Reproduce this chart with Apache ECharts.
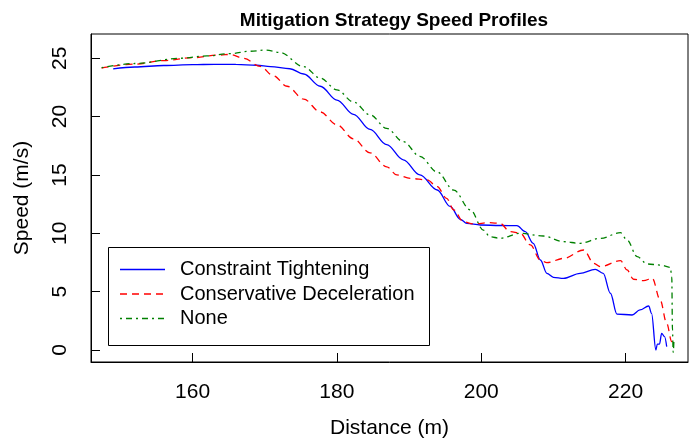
<!DOCTYPE html>
<html>
<head>
<meta charset="utf-8">
<script src="https://cdn.jsdelivr.net/npm/echarts@6/dist/echarts.min.js"></script>
<style>
  html, body { margin: 0; padding: 0; background: #fff; }
  #main { width: 689px; height: 440px; }
</style>
</head>
<body>
<div id="main"></div>
<script>
// Constraint Tightening
var ctDist = [149.0, 152, 156, 160, 163, 166, 168.9, 170.8, 173.5, 175.4, 177.7, 180.0, 182.3, 184.6, 186.9, 189.2, 191.5, 193.9, 195.7, 197.1, 198.0, 199.9, 202.6, 204.95, 206.1, 207.2, 208.2, 209.1, 210.0, 211.4, 213.7, 215.8, 216.9, 217.9, 218.8, 220.9, 222.0, 223.2, 223.6, 224.2, 224.4, 224.7, 225.0, 225.4, 225.7];
var ctSpeed = [24.1, 24.25, 24.38, 24.45, 24.48, 24.47, 24.4, 24.28, 24.1, 23.65, 22.6, 21.42, 20.2, 18.9, 17.6, 16.3, 15.0, 13.71, 12.3, 11.2, 10.85, 10.71, 10.67, 10.65, 10.14, 9.14, 7.71, 6.57, 6.23, 6.14, 6.57, 6.91, 6.57, 4.86, 3.08, 3.0, 3.43, 3.77, 3.14, 0.0, 0.51, 0.51, 1.43, 1.14, 0.28];

// Conservative Deceleration
var cdDist = [147.4, 152, 156, 160, 163.8, 165.2, 167.1, 169.4, 171.2, 173.1, 175.4, 177.7, 180.0, 182.3, 184.6, 186.9, 188.3, 190.2, 192.5, 193.9, 195.2, 196.2, 197.5, 198.9, 201.2, 202.6, 204.0, 205.4, 206.8, 208.2, 209.1, 211.4, 214.2, 215.6, 216.5, 219.3, 220.2, 221.1, 222.5, 223.7, 224.8, 225.7, 226.4, 226.6];
var cdSpeed = [24.16, 24.5, 24.8, 25.05, 25.28, 25.33, 25.0, 24.3, 23.5, 22.6, 21.5, 20.4, 19.3, 18.1, 16.9, 15.7, 15.0, 14.7, 14.57, 14.0, 13.0, 12.0, 11.0, 10.8, 10.91, 10.85, 10.14, 10.0, 9.0, 7.71, 7.48, 7.85, 8.57, 7.43, 7.14, 7.65, 6.86, 6.06, 5.94, 6.14, 4.28, 2.28, 0.71, 0.9];

// None
var noDist = [147.4, 152, 158.3, 162, 165.2, 168, 170.1, 172.1, 175.4, 177.7, 180.0, 182.3, 184.6, 186.9, 189.2, 191.5, 193.9, 196.2, 198.5, 200.3, 201.2, 202.6, 205.4, 208.6, 211.4, 213.7, 216.5, 219.3, 220.2, 221.6, 223.0, 224.8, 226.2, 226.4, 226.5, 226.6, 226.7];
var noSpeed = [24.2, 24.55, 25.0, 25.2, 25.4, 25.6, 25.7, 25.5, 24.28, 23.3, 22.3, 21.25, 20.15, 19.0, 17.85, 16.6, 15.25, 13.7, 12.0, 10.28, 9.71, 9.57, 10.0, 9.77, 9.28, 9.14, 9.57, 10.05, 9.43, 8.0, 7.37, 7.28, 7.08, 6.28, 1.71, -0.2, 0.8];

var xTicks = [160, 180, 200, 220];
var yTicks = [0, 5, 10, 15, 20, 25];

var names = ['Constraint Tightening', 'Conservative Deceleration', 'None'];
var colors = ['#0000ff', '#ff0000', '#008000'];
var dashes = [null, [7, 5], [2, 4, 6, 4]];

function pairs(xs, ys) {
  return xs.map(function (x, i) { return [x, ys[i]]; });
}

var chart = echarts.init(document.getElementById('main'));
var font = 'Liberation Sans, Arial, Helvetica, sans-serif';

// legend drawn by hand, R style (box + line samples + labels)
var legendItems = [{
  type: 'rect', left: 106, top: 245,
  shape: { width: 321, height: 98 },
  style: { fill: 'none', stroke: '#000', lineWidth: 1 }
}];
names.forEach(function (n, i) {
  var y = 269.5 + i * 24.5;
  legendItems.push({
    type: 'line',
    shape: { x1: 120, y1: y, x2: 165, y2: y },
    style: { stroke: colors[i], lineWidth: 1.3, lineDash: dashes[i] }
  });
  legendItems.push({
    type: 'text', x: 180, y: y,
    style: { text: n, fill: '#000', font: '20px ' + font, textVerticalAlign: 'middle' }
  });
});

var option = {
  animation: false,
  backgroundColor: '#fff',
  title: {
    text: 'Mitigation Strategy Speed Profiles',
    left: 389, textAlign: 'center', top: 6,
    textStyle: { fontFamily: font, fontSize: 19, fontWeight: 'bold', color: '#000' }
  },
  grid: {
    left: 91, right: 1, top: 34, bottom: 78,
    outerBoundsMode: 'none',
    show: true, borderColor: '#000', borderWidth: 1, backgroundColor: 'transparent'
  },
  xAxis: {
    type: 'value', min: 145.93, max: 228.65,
    name: 'Distance (m)', nameLocation: 'middle', nameGap: 56,
    nameTextStyle: { fontFamily: font, fontSize: 21, color: '#000' },
    axisLine: { show: true, onZero: false, lineStyle: { color: '#000' } },
    axisTick: { show: true, inside: true, length: 9, customValues: xTicks, lineStyle: { color: '#000' } },
    axisLabel: { customValues: xTicks, margin: 20, fontFamily: font, fontSize: 21, color: '#000' },
    splitLine: { show: false }
  },
  yAxis: {
    type: 'value', min: -1.03, max: 27.08,
    name: 'Speed (m/s)', nameLocation: 'middle', nameGap: 58,
    nameTextStyle: { fontFamily: font, fontSize: 21, color: '#000' },
    axisLine: { show: true, onZero: false, lineStyle: { color: '#000' } },
    axisTick: { show: true, inside: true, length: 9, customValues: yTicks, lineStyle: { color: '#000' } },
    axisLabel: { customValues: yTicks, rotate: 90, margin: 20, fontFamily: font, fontSize: 21, color: '#000' },
    splitLine: { show: false }
  },
  graphic: legendItems,
  series: names.map(function (n, i) {
    var xs = [ctDist, cdDist, noDist][i];
    var ys = [ctSpeed, cdSpeed, noSpeed][i];
    return {
      name: n, type: 'line', data: pairs(xs, ys),
      showSymbol: false, symbol: 'none', smooth: 0.35, smoothMonotone: 'x',
      lineStyle: { color: colors[i], width: 1.3, type: dashes[i] || 'solid' }
    };
  })
};

chart.setOption(option);
</script>
</body>
</html>
